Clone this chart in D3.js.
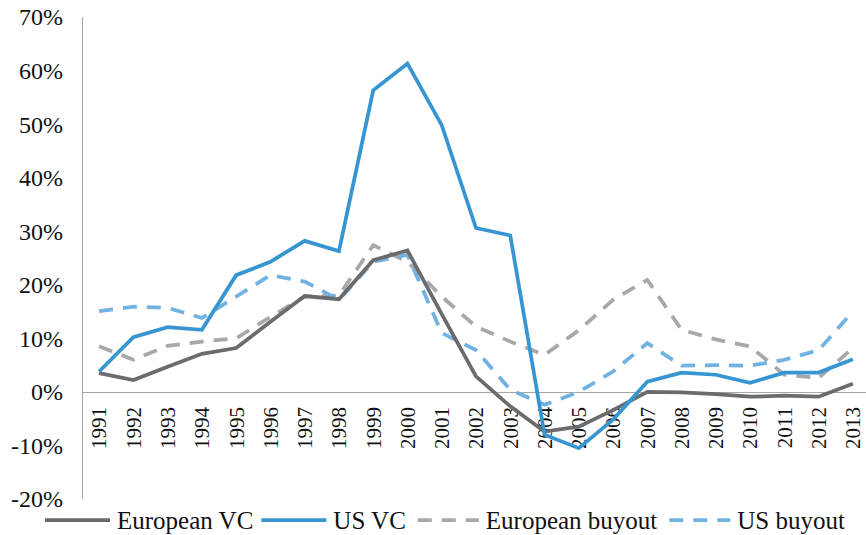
<!DOCTYPE html>
<meta charset="utf-8">
<style>
body { margin: 0; background: #fff; }
text { font-family: "Liberation Serif", "Times New Roman", serif; fill: #111; }
.line { fill: none; stroke-linejoin: miter; }
</style>
<svg width="866" height="535"></svg>
<script src="https://d3js.org/d3.v7.min.js"></script>
<script>

var years = ["1991","1992","1993","1994","1995","1996","1997","1998","1999","2000","2001","2002",
             "2003","2004","2005","2006","2007","2008","2009","2010","2011","2012","2013"];
var yTicks = [-20, -10, 0, 10, 20, 30, 40, 50, 60, 70];

var europeanVC    = [3.5, 2.2, 4.7, 7.1, 8.2, 13.1, 17.9, 17.3, 24.6, 26.4, 14.5, 2.9, -2.7, -7.4, -6.5, -3.4, 0.0, -0.1, -0.4, -0.9, -0.7, -0.9, 1.5];
var usVC          = [3.8, 10.2, 12.1, 11.6, 21.8, 24.3, 28.2, 26.3, 56.3, 61.3, 49.8, 30.6, 29.2, -8.0, -10.5, -5.2, 1.9, 3.6, 3.2, 1.7, 3.6, 3.6, 6.1];
var europeanBuyout = [8.5, 6.0, 8.6, 9.4, 10.0, 14.0, 17.8, 18.0, 27.4, 24.3, 17.8, 12.2, 9.4, 6.9, 11.5, 17.2, 20.9, 11.6, 9.8, 8.5, 3.2, 2.6, 8.2];
var usBuyout      = [15.1, 15.9, 15.7, 13.8, 17.8, 21.8, 20.6, 17.2, 24.3, 25.6, 11.0, 7.8, 0.4, -2.4, 0.0, 3.8, 9.1, 4.9, 5.0, 4.9, 6.0, 7.8, 15.0];

var series = [
  {name: "European VC", values: europeanVC, color: "#6a6b6d", dash: null},
  {name: "US VC", values: usVC, color: "#3796d2", dash: null},
  {name: "European buyout", values: europeanBuyout, color: "#a7a8aa", dash: "14,10"},
  {name: "US buyout", values: usBuyout, color: "#72b2e2", dash: "14,10"}
];

var svg = d3.select("svg");

var x = d3.scaleBand().domain(years).range([82, 870]);
var y = d3.scaleLinear().domain([-20, 70]).range([499, 17]);

// y axis line
svg.append("line")
    .attr("x1", 82.5).attr("x2", 82.5)
    .attr("y1", y(70)).attr("y2", y(-20))
    .attr("stroke", "#a6a6a6").attr("stroke-width", 1);

// zero line
svg.append("line")
    .attr("x1", 82).attr("x2", 870)
    .attr("y1", Math.round(y(0)) + 0.5).attr("y2", Math.round(y(0)) + 0.5)
    .attr("stroke", "#a6a6a6").attr("stroke-width", 1);

// y tick labels
svg.selectAll(".ylab")
  .data(yTicks)
  .enter().append("text")
    .attr("class", "ylab")
    .attr("x", 63)
    .attr("y", function(d) { return y(d); })
    .attr("dy", "0.35em")
    .attr("text-anchor", "end")
    .style("font-size", "24px")
    .text(function(d) { return d + "%"; });

// year labels
svg.selectAll(".xlab")
  .data(years)
  .enter().append("text")
    .attr("class", "xlab")
    .attr("transform", function(d) { return "translate(" + (x(d) + x.bandwidth() / 2) + ",407) rotate(-90)"; })
    .attr("dy", "0.35em")
    .attr("text-anchor", "end")
    .style("font-size", "21px")
    .text(function(d) { return d; });

var line = d3.line()
    .x(function(d, i) { return x(years[i]) + x.bandwidth() / 2; })
    .y(function(d) { return y(d); });

// draw order: buyouts first, then VC
var order = [2, 3, 0, 1];
order.forEach(function(k) {
  var s = series[k];
  svg.append("path")
      .datum(s.values)
      .attr("class", "line")
      .attr("d", line)
      .attr("stroke", s.color)
      .attr("stroke-width", 3.75)
      .attr("stroke-dasharray", s.dash);
});

// legend
var lx = 45, ly = 520;
series.forEach(function(s) {
  svg.append("line")
      .attr("x1", lx).attr("x2", lx + 65)
      .attr("y1", ly).attr("y2", ly)
      .attr("stroke", s.color)
      .attr("stroke-width", 3.75)
      .attr("stroke-dasharray", s.dash ? "14,10" : null)
      .attr("stroke-dashoffset", s.dash ? -4 : null);
  var t = svg.append("text")
      .attr("x", lx + 72)
      .attr("y", ly)
      .attr("dy", "0.35em")
      .style("font-size", "25px")
      .text(s.name);
  lx += 72 + t.node().getComputedTextLength() + 8;
});

</script>
